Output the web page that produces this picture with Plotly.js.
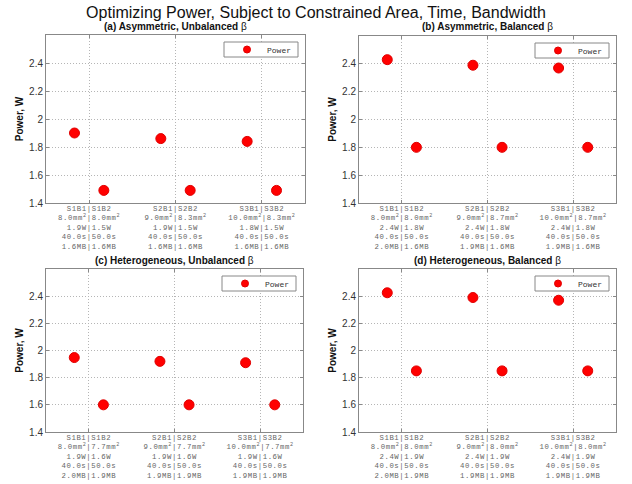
<!DOCTYPE html>
<html>
<head>
<meta charset="utf-8">
<script src="https://cdn.plot.ly/plotly-3.0.1.min.js"></script>
<style>
  html, body { margin: 0; padding: 0; background: #fff; }
  #chart { width: 632px; height: 484px; }
  /* slightly wider tracking for the monospace configuration labels */
  .xtick text, .x2tick text, .x3tick text, .x4tick text { letter-spacing: 0.6px; }
  /* legend keys are drawn at full strength in every panel legend */
  g[class^="legend"] .traces { opacity: 1 !important; }
</style>
</head>
<body>
<div id="chart"></div>
<script>
// Configuration pairs (bus 1 | bus 2) shown on each panel
const configs = ["S1B1|S1B2", "S2B1|S2B2", "S3B1|S3B2"];
const timesB1 = [40.0, 40.0, 40.0];
const timesB2 = [50.0, 50.0, 50.0];

// (a) Asymmetric, unbalanced beta
const powerA1 = [1.90, 1.86, 1.84];
const powerA2 = [1.49, 1.49, 1.49];
const areaA1 = [8.0, 9.0, 10.0];
const areaA2 = [8.0, 8.3, 8.3];
const memA1 = [1.6, 1.6, 1.6];
const memA2 = [1.6, 1.6, 1.6];

// (b) Asymmetric, balanced beta
const powerB1 = [2.43, 2.39, 2.37];
const powerB2 = [1.80, 1.80, 1.80];
const areaB1 = [8.0, 9.0, 10.0];
const areaB2 = [8.0, 8.7, 8.7];
const memB1 = [2.0, 1.9, 1.9];
const memB2 = [1.6, 1.6, 1.6];

// (c) Heterogeneous, unbalanced beta
const powerC1 = [1.948, 1.92, 1.91];
const powerC2 = [1.60, 1.60, 1.60];
const areaC1 = [8.0, 9.0, 10.0];
const areaC2 = [7.7, 7.7, 7.7];
const memC1 = [2.0, 1.9, 1.9];
const memC2 = [1.9, 1.9, 1.9];

// (d) Heterogeneous, balanced beta
const powerD1 = [2.425, 2.39, 2.37];
const powerD2 = [1.85, 1.85, 1.85];
const areaD1 = [8.0, 9.0, 10.0];
const areaD2 = [8.0, 8.0, 8.0];
const memD1 = [2.0, 1.9, 1.9];
const memD2 = [1.9, 1.9, 1.9];

const panelTitles = [
  "<b>(a) Asymmetric, Unbalanced</b> β",
  "<b>(b) Asymmetric, Balanced</b> β",
  "<b>(c) Heterogeneous, Unbalanced</b> β",
  "<b>(d) Heterogeneous, Balanced</b> β"
];

const panels = [
  {p1: powerA1, p2: powerA2, a1: areaA1, a2: areaA2, m1: memA1, m2: memA2},
  {p1: powerB1, p2: powerB2, a1: areaB1, a2: areaB2, m1: memB1, m2: memB2},
  {p1: powerC1, p2: powerC2, a1: areaC1, a2: areaC2, m1: memC1, m2: memC2},
  {p1: powerD1, p2: powerD2, a1: areaD1, a2: areaD2, m1: memD1, m2: memD2}
];

// Pixel boxes of the four plot areas -> paper domains
const W = 632, H = 484;
const boxes = [
  {l: 46, r: 305, t: 35, b: 203},
  {l: 359, r: 616, t: 36, b: 203},
  {l: 46, r: 303, t: 269, b: 432},
  {l: 359, r: 616, t: 269, b: 432}
];
// Legend frame size (px) and its inset from the plot's top-right corner
const legW = 74, legH = 15, legInset = 7;

const offset = 0.17;   // horizontal split of the B1 / B2 markers around each tick
const f1 = v => v.toFixed(1);

function tickText(pn) {
  return configs.map((c, i) =>
    c + "<br>" +
    f1(pn.a1[i]) + "mm<sup>2</sup>|" + f1(pn.a2[i]) + "mm<sup>2</sup><br>" +
    f1(pn.p1[i]) + "W|" + f1(pn.p2[i]) + "W<br>" +
    f1(timesB1[i]) + "s|" + f1(timesB2[i]) + "s<br>" +
    f1(pn.m1[i]) + "MB|" + f1(pn.m2[i]) + "MB");
}

const traces = [];
const layout = {
  width: W, height: H,
  margin: {l: 0, r: 0, t: 0, b: 0},
  paper_bgcolor: "#fff",
  plot_bgcolor: "#fff",
  showlegend: true,
  font: {family: "Liberation Sans, Arial, sans-serif", color: "#222"},
  title: {
    text: "Optimizing Power, Subject to Constrained Area, Time, Bandwidth",
    font: {size: 16, color: "#111", family: "Liberation Sans, Arial, sans-serif"},
    x: 0.5, xanchor: "center", y: 1 - 12 / H, yanchor: "middle"
  },
  annotations: [],
  shapes: []
};

panels.forEach((pn, k) => {
  const n = k + 1;
  const sfx = n === 1 ? "" : String(n);
  const bx = boxes[k];
  const xs = [], ys = [];
  configs.forEach((c, i) => {
    xs.push(i + 1 - offset, i + 1 + offset);
    ys.push(pn.p1[i], pn.p2[i]);
  });
  // the data markers
  traces.push({
    type: "scatter", mode: "markers",
    name: "Power",
    x: xs, y: ys,
    xaxis: "x" + sfx, yaxis: "y" + sfx,
    showlegend: false,
    marker: {color: "#ff0000", size: 10, symbol: "circle", line: {color: "#e00000", width: 1}},
    hoverinfo: "x+y"
  });
  // legend key (same series, listed only in the legend, with a smaller symbol)
  traces.push({
    type: "scatter", mode: "markers",
    name: "Power",
    x: xs, y: ys,
    visible: "legendonly",
    xaxis: "x" + sfx, yaxis: "y" + sfx,
    legend: "legend" + sfx,
    marker: {color: "#ff0000", size: 7, symbol: "circle", line: {color: "#e00000", width: 1}}
  });

  const common = {
    showline: true, linecolor: "#888", linewidth: 1, mirror: "allticks",
    ticks: "inside", ticklen: 3, tickcolor: "#888",
    showgrid: true, gridcolor: "#b5b5b5", griddash: "1px,2px", gridwidth: 1,
    zeroline: false, fixedrange: true
  };
  layout["xaxis" + sfx] = Object.assign({}, common, {
    domain: [bx.l / W, bx.r / W],
    anchor: "y" + sfx,
    range: [0.5, 3.5],
    tickmode: "array",
    tickvals: [1, 2, 3],
    ticktext: tickText(pn),
    tickangle: 0,
    ticklabelstandoff: -2,
    tickfont: {family: "Liberation Mono, Courier New, monospace", size: 7.3, color: "#666"}
  });
  layout["yaxis" + sfx] = Object.assign({}, common, {
    domain: [1 - bx.b / H, 1 - bx.t / H],
    anchor: "x" + sfx,
    range: [1.4, 2.6],
    tickmode: "array",
    tickvals: [1.4, 1.6, 1.8, 2.0, 2.2, 2.4],
    ticktext: ["1.4", "1.6", "1.8", "2", "2.2", "2.4"],
    tickfont: {size: 10, color: "#333"},
    title: {text: "<b>Power, W</b>", font: {size: 10, color: "#111"}, standoff: 3}
  });

  // compact legend frame, with the legend entry laid over it
  const fr = {x1: bx.r - legInset, y0: bx.t + legInset};
  fr.x0 = fr.x1 - legW;
  fr.y1 = fr.y0 + legH;
  layout.shapes.push({
    type: "rect", xref: "paper", yref: "paper", layer: "above",
    x0: fr.x0 / W, x1: fr.x1 / W, y0: 1 - fr.y1 / H, y1: 1 - fr.y0 / H,
    fillcolor: "#fff", line: {color: "#888", width: 1}
  });
  layout["legend" + sfx] = {
    x: (fr.x0 + 3) / W, xanchor: "left",
    y: 1 - (fr.y0 + legH / 2) / H, yanchor: "middle",
    bgcolor: "rgba(0,0,0,0)", borderwidth: 0,
    font: {family: "Liberation Mono, Courier New, monospace", size: 8, color: "#333"},
    itemwidth: 30
  };

  layout.annotations.push({
    text: panelTitles[k],
    xref: "paper", yref: "paper",
    x: (bx.l + bx.r) / 2 / W, y: 1 - (bx.t - 9) / H,
    xanchor: "center", yanchor: "middle",
    showarrow: false,
    font: {size: 10, color: "#111"}
  });
});

Plotly.newPlot("chart", traces, layout, {displayModeBar: false, staticPlot: true});
</script>
</body>
</html>
